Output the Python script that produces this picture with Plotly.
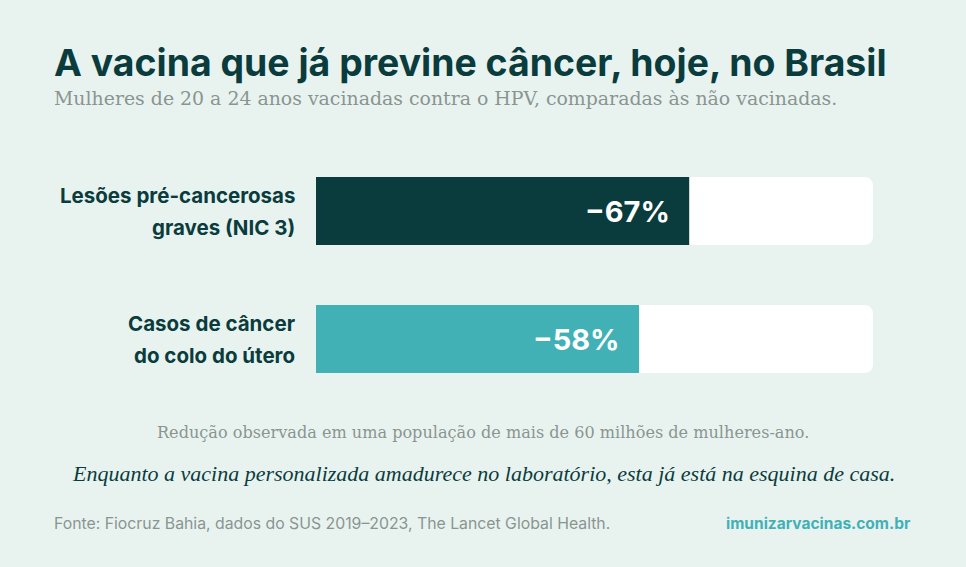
import plotly.graph_objects as go

# dados
categorias = ["Lesões pré-cancerosas\ngraves (NIC 3)", "Casos de câncer\ndo colo do útero"]
reducao = [67, 58]
rotulos = ["−67%", "−58%"]
cores = ["#0b3c3d", "#41b1b6"]
escala_max = 100

titulo = "A vacina que já previne câncer, hoje, no Brasil"
subtitulo = "Mulheres de 20 a 24 anos vacinadas contra o HPV, comparadas às não vacinadas."
nota = "Redução observada em uma população de mais de 60 milhões de mulheres-ano."
frase = "Enquanto a vacina personalizada amadurece no laboratório, esta já está na esquina de casa."
fonte = "Fonte: Fiocruz Bahia, dados do SUS 2019–2023, The Lancet Global Health."
site = "imunizarvacinas.com.br"

W, H = 966, 567
ML, MR, MT, MB = 316, 93, 147, 164
FUNDO = "#e8f3f0"
ESCURO = "#0b3c3d"
CINZA = "#8a9591"
TEAL = "#41b1b6"
SANS = "Inter, Lato, sans-serif"
SERIF = "DejaVu Serif, Liberation Serif, serif"
SERIF_IT = "Liberation Serif, DejaVu Serif, serif"

pos = list(range(len(categorias)))


def px_para_paper(px, py):
    # paper é relativo à área do gráfico
    return (px - ML) / (W - ML - MR), 1 - (py - MT) / (H - MT - MB)


fig = go.Figure()

# trilho branco (100%)
fig.add_trace(go.Bar(
    x=[escala_max] * len(pos), y=pos, orientation="h",
    marker=dict(color="white", line=dict(width=0)),
    width=0.53, hoverinfo="skip", showlegend=False,
))

# barras de redução
fig.add_trace(go.Bar(
    x=reducao, y=pos, orientation="h",
    marker=dict(color=cores, line=dict(width=0)),
    width=0.53, showlegend=False,
    hovertemplate="%{x}%<extra></extra>",
))

anotacoes = []

# rótulos das categorias (duas linhas)
for i, cat in enumerate(categorias):
    linhas = cat.split("\n")
    for j, linha in enumerate(linhas):
        anotacoes.append(dict(
            x=0, y=i, xref="paper", yref="y",
            text=linha, showarrow=False,
            xanchor="right", yanchor="middle",
            xshift=-19, yshift=16 - 32 * j,
            font=dict(family=SANS, size=20.5, color=ESCURO, weight="bold"),
        ))

# valores dentro das barras
for i, (v, r) in enumerate(zip(reducao, rotulos)):
    anotacoes.append(dict(
        x=v, y=i, xref="x", yref="y",
        text=r, showarrow=False,
        xanchor="right", yanchor="middle", xshift=-17,
        font=dict(family=SANS, size=29, color="white", weight="bold"),
    ))

# textos soltos: (texto, x px, y px, âncora, fonte)
textos = [
    (titulo, 52, 62, "left", dict(size=37.4, color=ESCURO, family=SANS, weight="bold")),
    (subtitulo, 52, 98, "left", dict(size=18.9, color=CINZA, family=SERIF)),
    (nota, 483, 432, "center", dict(size=16.1, color=CINZA, family=SERIF)),
    (frase, 483, 473, "center", dict(size=22, color=ESCURO, family=SERIF_IT, style="italic")),
    (fonte, 52, 523, "left", dict(size=15.8, color=CINZA, family=SANS)),
    (site, 913, 523, "right", dict(size=15.5, color=TEAL, family=SANS, weight="bold")),
]
for txt, x, y, anc, est in textos:
    xp, yp = px_para_paper(x, y)
    anotacoes.append(dict(
        x=xp, y=yp, xref="paper", yref="paper", text=txt, showarrow=False,
        xanchor=anc, yanchor="middle", font=est,
    ))

fig.update_layout(
    width=W, height=H,
    margin=dict(l=ML, r=MR, t=MT, b=MB),
    paper_bgcolor=FUNDO, plot_bgcolor=FUNDO,
    barmode="overlay", barcornerradius=8,
    xaxis=dict(range=[0, escala_max], visible=False, fixedrange=True),
    yaxis=dict(range=[1.5, -0.5], visible=False, fixedrange=True),
    annotations=anotacoes,
    font=dict(family=SANS),
)

fig.write_html(
    "out.html",
    config={"displayModeBar": False},
    post_script="document.body.style.margin='0';document.body.style.background='%s';" % FUNDO,
)
